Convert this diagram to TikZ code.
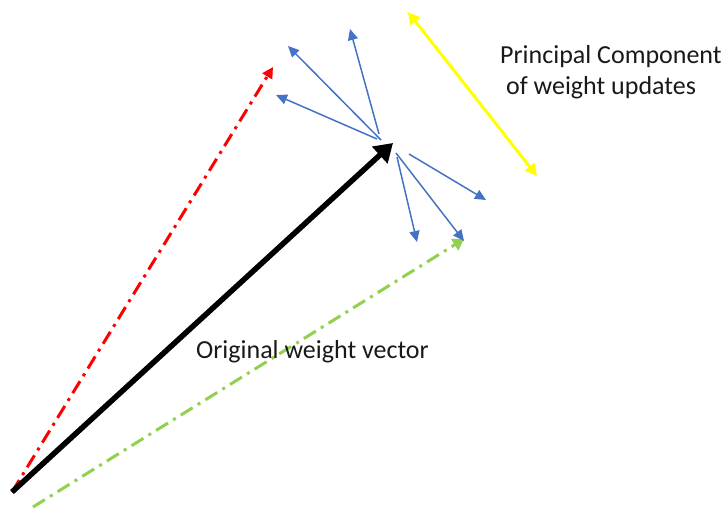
\documentclass[tikz,border=0pt]{standalone}
\usepackage{fontspec}
\setmainfont{Carlito}
\usetikzlibrary{arrows.meta}

\definecolor{pcred}{RGB}{255,0,0}
\definecolor{pcgreen}{RGB}{146,208,80}
\definecolor{pcblue}{RGB}{68,114,196}
\definecolor{pcyellow}{RGB}{255,255,0}

\begin{document}
\begin{tikzpicture}[x=1pt, y=-1pt,
  every node/.style={font=\fontsize{26}{31}\selectfont, text=black!90, inner sep=0pt},
  dashdot/.style={line width=3pt, dash pattern=on 14pt off 6pt on 3pt off 6pt},
  update/.style={pcblue, line width=1.5pt, -{Triangle[length=11pt,width=10pt]}}]
\useasboundingbox (0,0) rectangle (726,510);
% origin and tips
\coordinate (origin) at (12,492);
\coordinate (gorigin) at (33,507);
\coordinate (wtip) at (393,143);
\coordinate (redtip) at (273,67);
\coordinate (greentip) at (464,239);
% weight vectors
\draw[pcred, dashdot, -{Triangle[length=11pt,width=11pt]}] (origin) -- (redtip);
\draw[pcgreen, dashdot, -{Triangle[length=11pt,width=13pt]}] (gorigin) -- (greentip);
\draw[black, line width=5.5pt, -{Triangle[length=18pt,width=22pt]}] (origin) -- (wtip);
% updates above
\coordinate (ua1) at (381,140);
\coordinate (ua2) at (379,134);
\coordinate (ua3) at (377,139);
\coordinate (ta1) at (288,46);
\coordinate (ta2) at (350,29);
\coordinate (ta3) at (276,95);
\draw[update] (ua1) -- (ta1);
\draw[update] (ua2) -- (ta2);
\draw[update] (ua3) -- (ta3);
% updates below
\coordinate (ub1) at (409,154);
\coordinate (ub2) at (397,157);
\coordinate (ub3) at (396,153);
\coordinate (tb1) at (486,200);
\coordinate (tb2) at (417,242);
\coordinate (tb3) at (464,241);
\draw[update] (ub1) -- (tb1);
\draw[update] (ub2) -- (tb2);
\draw[update] (ub3) -- (tb3);
% principal component
\coordinate (pcstart) at (408,12);
\coordinate (pcend) at (537,176);
\draw[pcyellow, line width=3pt, {Triangle[length=12pt,width=12pt]}-{Triangle[length=12pt,width=12pt]}] (pcstart) -- (pcend);
% labels
\node[anchor=west] (pclabel) at (500,57) {Principal Component};
\node[anchor=west] (pclabel2) at (506,88) {of weight updates};
\node[anchor=west] (wlabel) at (196,352) {Original weight vector};
\end{tikzpicture}
\end{document}
